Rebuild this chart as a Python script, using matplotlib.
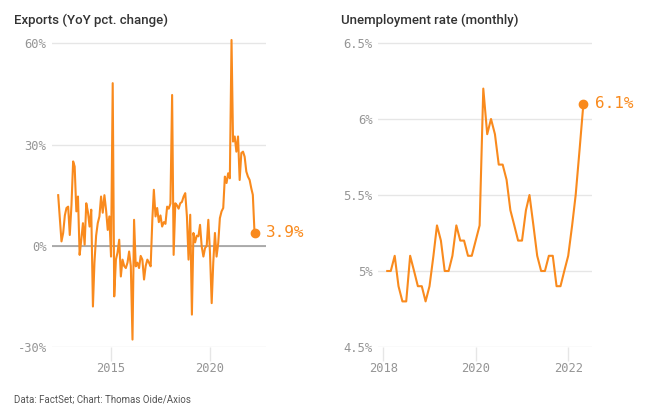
import numpy as np
import pandas as pd
import matplotlib
matplotlib.use('Agg')
from matplotlib import pyplot as plt
import matplotlib.dates as mdates

# exports, YoY pct change, monthly May 2012 - Apr 2022
exports = [15, 8, 1.3, 3.8, 9, 11.2, 11.6, 3.2,
           12, 25, 23.5, 10.2, 14.6, -2.7, 1.8, 6.7, 0.3, 12.6, 10, 5.7,
           10.7, -18, -5, 3, 6.7, 8.7, 14.6, 9.8, 15, 10.7, 4.7, 8.7,
           -3.2, 48.2, -15, -4.1, -2, 1.8, -9.1, -4.1, -6, -6.6, -5, -1.7,
           -6, -27.8, 7.7, -6.1, -5, -6.6, -3, -4.1, -10, -6, -4.1, -5,
           -6.1, 7.7, 16.6, 8.7, 11.2, 7, 9, 5.7, 7, 6.5, 11.6, 11,
           12.5, 44.7, -2.7, 12.6, 12, 11, 12.6, 13, 14.6, 15.6, 8.7, -4.1,
           9.2, -20.4, 3.8, 1, 3, 2.8, 6.2, -0.2, -3.2, -0.7, 0, 7.7,
           -2.2, -17, -5, 3.8, -3.2, 0.8, 8.2, 10.2, 11.2, 20.5, 18.6, 21.5,
           20, 61, 30.9, 32.4, 27.9, 32.4, 19.5, 27.5, 27.9, 26.4, 22, 20.5,
           19.5, 17, 15.1, 3.9]
exp_dates = pd.date_range('2012-05-01', periods=len(exports), freq='MS')

# unemployment rate, monthly Feb 2018 - May 2022
unemp = [5.0, 5.0, 5.1, 4.9, 4.8, 4.8, 5.1, 5.0, 4.9, 4.9, 4.8, 4.9,
         5.1, 5.3, 5.2, 5.0, 5.0, 5.1, 5.3, 5.2, 5.2, 5.1, 5.1, 5.2,
         5.3, 6.2, 5.9, 6.0, 5.9, 5.7, 5.7, 5.6, 5.4, 5.3, 5.2, 5.2,
         5.4, 5.5, 5.3, 5.1, 5.0, 5.0, 5.1, 5.1, 4.9, 4.9, 5.0, 5.1,
         5.3, 5.5, 5.8, 6.1]
un_dates = pd.date_range('2018-02-01', periods=len(unemp), freq='MS')

exp_ticks = [-30, 0, 30, 60]
exp_labels = ['-30%', '0%', '30%', '60%']
un_ticks = [4.5, 5, 5.5, 6, 6.5]
un_labels = ['4.5%', '5%', '5.5%', '6%', '6.5%']

orange = '#F98A1D'
grey = '#959595'
plt.rcParams['font.family'] = 'DejaVu Sans Mono'

fig = plt.figure(figsize=(6.45, 4.17), dpi=100)
W, H = 645, 417

def style(ax, ticks, labels):
    for s in ax.spines.values():
        s.set_visible(False)
    ax.set_yticks(ticks)
    ax.set_yticklabels(labels, fontsize=8.7, color=grey)
    ax.tick_params(axis='y', length=0, pad=4)
    ax.tick_params(axis='x', length=10, width=1, color='#e6e6e6', pad=1,
                   labelsize=8.7, labelcolor=grey)
    ax.grid(axis='y', color='#e6e6e6', lw=1)
    ax.set_axisbelow(True)
    ax.xaxis.set_major_formatter(mdates.DateFormatter('%Y'))

# left: exports
ax1 = fig.add_axes([52/W, 1-347/H, 214/W, (347-36.6)/H])
ax1.plot(exp_dates, exports, color=orange, lw=1.5, zorder=3)
ax1.axhline(0, color='#999999', lw=1.1, zorder=2)
ax1.plot(exp_dates[-1], exports[-1], 'o', color=orange, ms=6, zorder=4)
ax1.annotate('%.1f%%' % exports[-1], (exp_dates[-1], exports[-1]), xytext=(8, 0),
             textcoords='offset points', va='center', ha='left',
             fontsize=11.5, color=orange, annotation_clip=False)
ax1.set_ylim(-30, 62)
ax1.set_xlim(pd.Timestamp('2012-01-08'), pd.Timestamp('2022-10-30'))
ax1.set_xticks([pd.Timestamp('2015-01-01'), pd.Timestamp('2020-01-01')])
style(ax1, exp_ticks, exp_labels)

# right: unemployment
ax2 = fig.add_axes([378/W, 1-347/H, 214/W, (347-36.6)/H])
ax2.plot(un_dates, unemp, color=orange, lw=1.5, zorder=3)
ax2.plot(un_dates[-1], unemp[-1], 'o', color=orange, ms=6, zorder=4)
ax2.annotate('%.1f%%' % unemp[-1], (un_dates[-1], unemp[-1]), xytext=(8, 0),
             textcoords='offset points', va='center', ha='left',
             fontsize=11.5, color=orange, annotation_clip=False)
ax2.set_ylim(4.5, 6.542)
ax2.set_xlim(pd.Timestamp('2017-11-20'), pd.Timestamp('2022-07-08'))
ax2.set_xticks([pd.Timestamp('2018-01-01'), pd.Timestamp('2020-01-01'),
                pd.Timestamp('2022-01-01')])
style(ax2, un_ticks, un_labels)

fig.text(14/W, 1-24/H, 'Exports (YoY pct. change)', family='Roboto',
         fontweight='medium', fontsize=9.5, color='#333333', va='baseline')
fig.text(341/W, 1-24/H, 'Unemployment rate (monthly)', family='Roboto',
         fontweight='medium', fontsize=9.5, color='#333333', va='baseline')
fig.text(14/W, 1-403/H, 'Data: FactSet; Chart: Thomas Oide/Axios', family='Roboto',
         fontsize=7, color='#555555', va='baseline')

fig.savefig('out.png', dpi=100)
